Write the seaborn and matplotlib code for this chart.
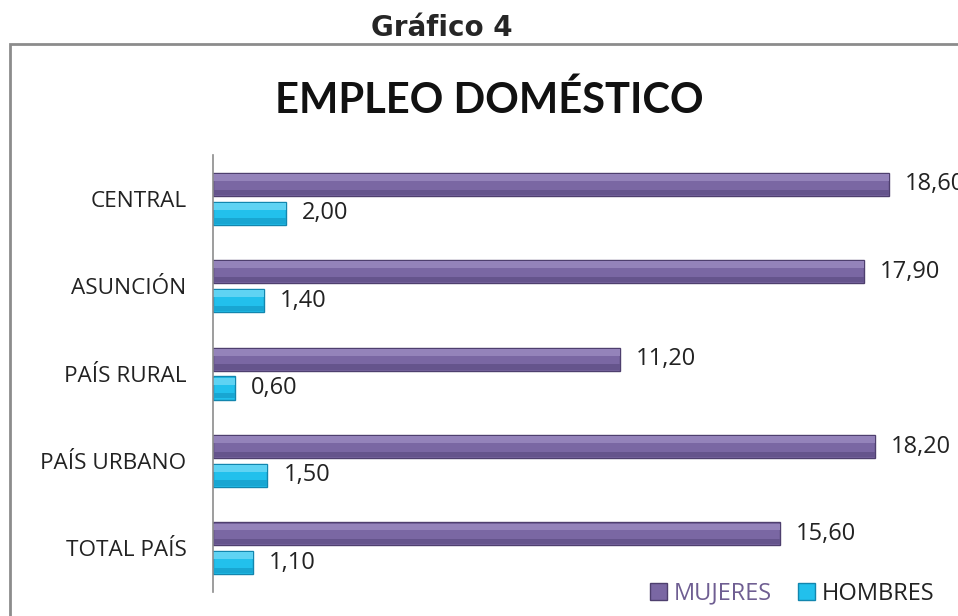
import pandas as pd
import matplotlib.pyplot as plt
import seaborn as sns
from matplotlib.patches import Rectangle, Patch

# Datos del gráfico
regiones = ['CENTRAL', 'ASUNCIÓN', 'PAÍS RURAL', 'PAÍS URBANO', 'TOTAL PAÍS']
mujeres = [18.60, 17.90, 11.20, 18.20, 15.60]
hombres = [2.00, 1.40, 0.60, 1.50, 1.10]

df = pd.DataFrame({
    'region': regiones * 2,
    'valor': mujeres + hombres,
    'sexo': ['MUJERES'] * len(regiones) + ['HOMBRES'] * len(regiones),
})

sns.set_style('white')
plt.rcParams['font.family'] = ['Open Sans', 'DejaVu Sans']

colores = {'MUJERES': '#7A67A3', 'HOMBRES': '#22C0EC'}
claros = {'MUJERES': '#9483BA', 'HOMBRES': '#5FD3F3'}
oscuros = {'MUJERES': '#65548C', 'HOMBRES': '#18A6D2'}
bordes = {'MUJERES': '#4E3F6E', 'HOMBRES': '#1286AE'}

fig = plt.figure(figsize=(9.58, 6.16), dpi=100)
ax = fig.add_axes([0.2223, 0.039, 0.759, 0.709])

sns.barplot(data=df, x='valor', y='region', hue='sexo', orient='h',
            palette=colores, saturation=1, width=0.66, gap=0.2, ax=ax, legend=False)

for cont, sexo in zip(ax.containers, ['MUJERES', 'HOMBRES']):
    for p in cont:
        p.set_edgecolor(bordes[sexo])
        p.set_linewidth(1.0)
        # efecto bisel: franja clara arriba, franja oscura abajo
        x0, y0 = p.get_x(), p.get_y()
        w, h = p.get_width(), p.get_height()
        z = p.get_zorder() + 0.1
        ax.add_patch(Rectangle((x0, y0 + h * 0.05), w, h * 0.3, facecolor=claros[sexo],
                               edgecolor='none', zorder=z))
        ax.add_patch(Rectangle((x0, y0 + h * 0.72), w, h * 0.23, facecolor=oscuros[sexo],
                               edgecolor='none', zorder=z))
    ax.bar_label(cont, labels=[f'{v:.2f}'.replace('.', ',') for v in cont.datavalues],
                 padding=11.5, fontsize=17, color='#222222')

ax.set_xlim(0, 20)
ax.set_xlabel('')
ax.set_ylabel('')
ax.set_xticks([])
ax.tick_params(axis='y', length=0, pad=19, labelsize=16.2, labelcolor='#222222')
for s in ['top', 'right', 'bottom']:
    ax.spines[s].set_visible(False)
ax.spines['left'].set_color('#8C8C8C')
ax.spines['left'].set_linewidth(1.2)

# Leyenda
handles = [Patch(facecolor=colores[k], edgecolor=bordes[k], label=k) for k in ['MUJERES', 'HOMBRES']]
leg = fig.legend(handles=handles, loc='center', bbox_to_anchor=(0.827, 0.036), ncol=2,
                 frameon=False, fontsize=17, handlelength=0.7, handleheight=0.7,
                 handletextpad=0.3, columnspacing=1.1)
leg.get_texts()[0].set_color('#6F5E92')
leg.get_texts()[1].set_color('#222222')

# Marco y títulos
fig.patches.append(Rectangle((10 / 958, -0.05), 1.0, 1 - 44 / 616 + 0.05,
                             transform=fig.transFigure, fill=False,
                             edgecolor='#8C8C8C', linewidth=2))
fig.text(0.461, 0.955, 'Gráfico 4', ha='center', va='center', fontsize=20,
         fontweight='bold', family='DejaVu Sans')
fig.text(0.511, 0.838, 'EMPLEO DOMÉSTICO', ha='center', va='center', fontsize=30,
         fontweight='bold', color='#111111', family='Lato')

fig.savefig('out.png', dpi=100)
